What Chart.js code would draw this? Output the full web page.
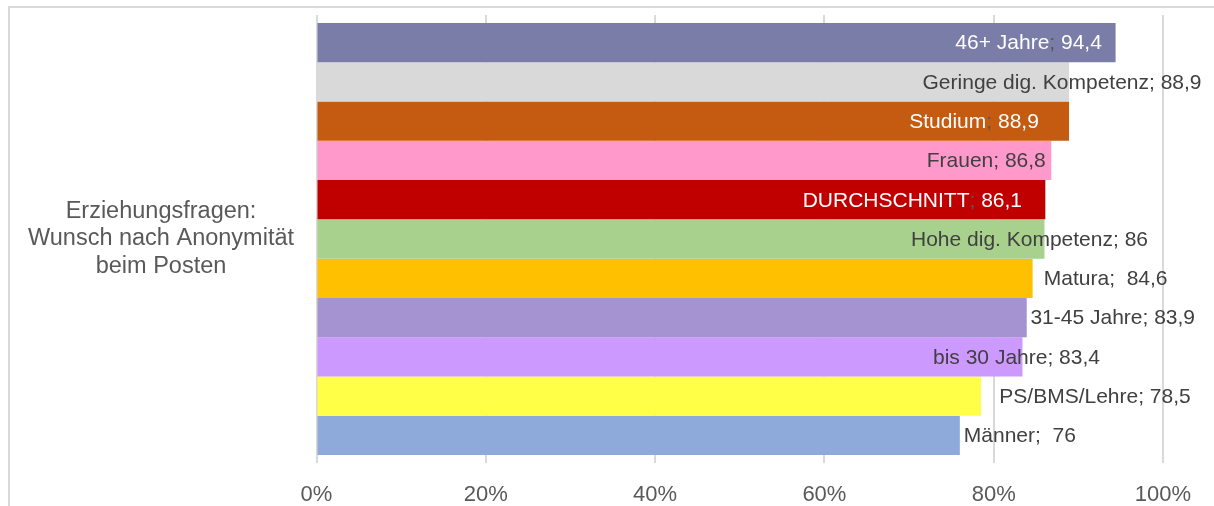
<!DOCTYPE html>
<html>
<head>
<meta charset="utf-8">
<script src="https://cdn.jsdelivr.net/npm/chart.js@4.4.1/dist/chart.umd.min.js"></script>
<style>
  html, body { margin: 0; padding: 0; background: #fff; }
  #wrap { position: relative; width: 1214px; height: 506px; }
</style>
</head>
<body>
<div id="wrap"><canvas id="chart"></canvas></div>
<script>
// ── Data ─────────────────────────────────────────────────────────────────────

const CATEGORY = ['Erziehungsfragen:', 'Wunsch nach Anonymität', 'beim Posten'];

const GROUPS = [
    '46+ Jahre',
    'Geringe dig. Kompetenz',
    'Studium',
    'Frauen',
    'DURCHSCHNITT',
    'Hohe dig. Kompetenz',
    'Matura',
    '31-45 Jahre',
    'bis 30 Jahre',
    'PS/BMS/Lehre',
    'Männer'
];

const VALUES = [94.4, 88.9, 88.9, 86.8, 86.1, 86, 84.6, 83.9, 83.4, 78.5, 76];

const X_MIN = 0;
const X_MAX = 100;
const X_STEP = 20;

// ── Styles ───────────────────────────────────────────────────────────────────

const FONT = 'Liberation Sans, Arial, sans-serif';
const GRID_COLOR = '#d9d9d9';
const TEXT_DARK = '#404040';
const TICK_COLOR = '#595959';

const BAR_COLORS = [
    '#7b7da9', '#d9d9d9', '#c55a11', '#ff99cc', '#c00000', '#a9d18e',
    '#ffc000', '#a493d0', '#cc99ff', '#ffff47', '#8eaadb'
];

// label colour per bar, and where its text centre sits relative to the bar end (px)
const LABEL_WHITE = [true, false, true, false, true, false, false, false, false, false, false];
const LABEL_DX = [-87, -7, -95, -65, -133, -15, 73, 86, -6, 114, 60];
const LABEL_SEP = ['; ', '; ', '; ', '; ', '; ', '; ', ';  ', '; ', '; ', '; ', ';  '];

// ── Helpers ──────────────────────────────────────────────────────────────────

const fmt = v => v.toString().replace('.', ',');

const CAT_FONT_SIZE = 23.5;
const PLOT_LEFT = 316.5;
const CAT_CENTER = 161;

function widestLine(lines, font) {
    const c = document.createElement('canvas').getContext('2d');
    c.font = font;
    return Math.max(...lines.map(l => c.measureText(l).width));
}

const catPadding = PLOT_LEFT - CAT_CENTER -
    widestLine(CATEGORY, CAT_FONT_SIZE + 'px ' + FONT) / 2;

// ── Plugins ──────────────────────────────────────────────────────────────────

const frame = {
    id: 'frame',
    beforeDraw(chart) {
        const ctx = chart.ctx;
        ctx.save();
        ctx.fillStyle = '#fff';
        ctx.fillRect(0, 0, chart.width, chart.height);
        ctx.fillStyle = GRID_COLOR;
        ctx.fillRect(8, 6, chart.width, 2);
        ctx.fillRect(8, 6, 2, chart.height);
        ctx.restore();
    }
};

const barLabels = {
    id: 'barLabels',
    afterDatasetsDraw(chart) {
        const ctx = chart.ctx;
        ctx.save();
        ctx.font = '21px ' + FONT;
        ctx.textBaseline = 'middle';
        ctx.textAlign = 'left';
        chart.data.datasets.forEach((ds, i) => {
            const bar = chart.getDatasetMeta(i).data[0];
            const mainColor = LABEL_WHITE[i] ? '#ffffff' : TEXT_DARK;
            const sepColor = LABEL_WHITE[i] ? TICK_COLOR : TEXT_DARK;
            const parts = [
                [GROUPS[i], mainColor],
                [LABEL_SEP[i], sepColor],
                [fmt(VALUES[i]), mainColor]
            ];
            const total = parts.reduce((s, p) => s + ctx.measureText(p[0]).width, 0);
            let x = bar.x + LABEL_DX[i] - total / 2;
            parts.forEach(([txt, col]) => {
                ctx.fillStyle = col;
                ctx.fillText(txt, x, bar.y + 1);
                x += ctx.measureText(txt).width;
            });
        });
        ctx.restore();
    }
};

// ── Chart ────────────────────────────────────────────────────────────────────

new Chart(document.getElementById('chart'), {
    type: 'bar',
    data: {
        labels: [CATEGORY],
        datasets: GROUPS.map((g, i) => ({
            label: g,
            data: [VALUES[i]],
            backgroundColor: BAR_COLORS[i],
            borderWidth: 0,
            categoryPercentage: 0.964,
            barPercentage: 1
        }))
    },
    options: {
        indexAxis: 'y',
        responsive: true,
        maintainAspectRatio: false,
        animation: false,
        layout: { padding: { top: 15, right: 51, left: 0, bottom: 0 } },
        plugins: {
            legend: { display: false },
            tooltip: { enabled: false }
        },
        scales: {
            x: {
                min: X_MIN,
                max: X_MAX,
                ticks: {
                    stepSize: X_STEP,
                    callback: v => v + '%',
                    font: { size: 22, family: FONT },
                    color: TICK_COLOR,
                    padding: 19
                },
                grid: { color: GRID_COLOR, lineWidth: 2, drawTicks: false },
                border: { display: false },
                afterFit: s => {
                    s.height = 43;
                    s.paddingLeft = 0;
                    s.paddingRight = 0;
                }
            },
            y: {
                ticks: {
                    crossAlign: 'center',
                    padding: catPadding,
                    font: { size: CAT_FONT_SIZE, family: FONT, lineHeight: 1.15 },
                    color: TICK_COLOR
                },
                grid: { display: false, drawTicks: false },
                border: { display: false },
                afterFit: s => {
                    s.width = PLOT_LEFT;
                    s.paddingTop = 0;
                    s.paddingBottom = 0;
                }
            }
        }
    },
    plugins: [frame, barLabels]
});
</script>
</body>
</html>
